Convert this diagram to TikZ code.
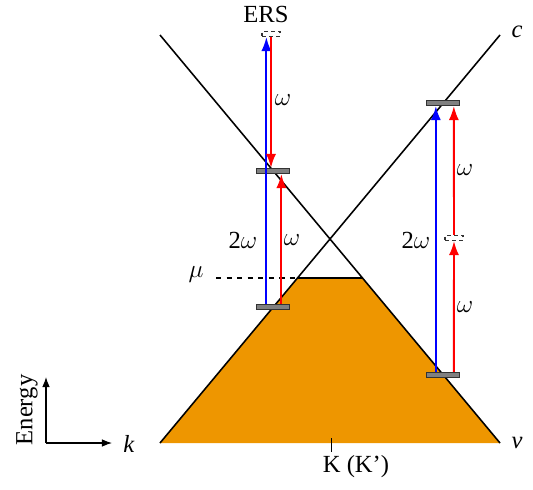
\documentclass[tikz,border=0pt]{standalone}
\usepackage{fontspec}
\setmainfont{Liberation Serif}
\definecolor{fermiorange}{RGB}{238,150,0}
\definecolor{pumpblue}{RGB}{0,0,255}
\definecolor{pumpred}{RGB}{255,0,0}
\usetikzlibrary{arrows.meta,positioning,calc}

\begin{document}
\begin{tikzpicture}[
  >=Latex,
  font=\fontsize{14}{16}\selectfont,
  band/.style={line width=0.9pt, black},
  level/.style={draw=black!80, fill=black!50, line width=0.6pt, minimum width=0.66cm, minimum height=0.1cm, inner sep=0pt},
  virt/.style={draw=black!80, dash pattern=on 2pt off 2pt, line width=0.6pt, minimum width=0.36cm, minimum height=0.1cm, inner sep=0pt},
  pumpb/.style={-{Latex[length=2.8mm,width=2mm]}, line width=1.1pt, pumpblue},
  pumpr/.style={-{Latex[length=2.8mm,width=2mm]}, line width=1.1pt, pumpred}
]
\useasboundingbox (0,0) rectangle (10.66,9.78);

% filled states below mu
\fill[fermiorange] (3.2,0.92) -- (10.0,0.92) -- (7.25,4.22) -- (5.95,4.22) -- cycle;
\draw[line width=0.8pt] (5.95,4.22) -- (7.25,4.22);
\draw[dashed, line width=0.6pt] (4.32,4.22) -- (5.95,4.22);
\node (mu) at (3.92,4.28) {$\mu$};

% Dirac cone
\draw[band] (3.2,9.08) -- (10.0,0.92);
\draw[band] (3.2,0.92) -- (10.0,9.08);
\node (c) at (10.34,9.14) {\textit{c}};
\node (v) at (10.34,0.92) {\textit{v}};
\draw[line width=0.5pt] (6.62,0.75) -- (6.62,1.02);
\node (K) at (7.12,0.44) {K (K’)};

% levels, left side
\node[level] (l1) at (5.467,3.64) {};
\node[level] (l2) at (5.467,6.36) {};
\node[virt] (ers) at (5.42,9.10) {};
\node (erslbl) at (5.32,9.50) {ERS};

\draw[pumpb] ([xshift=-0.14cm]l1.north) -- ([xshift=-0.14cm]l1.north |- ers.south);
\draw[pumpr] ([xshift=0.16cm]l1.north) -- ([xshift=0.16cm]l2.south);
\draw[pumpr] (ers.south) -- (ers.south |- l2.north);

\node (w1) at (5.66,7.78) {$\omega$};
\node (w2) at (4.86,4.98) {2$\omega$};
\node (w3) at (5.84,4.98) {$\omega$};

% levels, right side
\node[level] (r1) at (8.867,2.28) {};
\node[level] (r2) at (8.867,7.72) {};
\node[virt] (mid) at (9.08,5.02) {};

\draw[pumpb] ([xshift=-0.15cm]r1.north) -- ([xshift=-0.15cm]r2.south);
\draw[pumpr] ([xshift=0.21cm]r1.north) -- (mid.south);
\draw[pumpr] (mid.north) -- ([xshift=0.21cm]r2.south);

\node (w4) at (8.32,4.98) {2$\omega$};
\node (w5) at (9.30,6.38) {$\omega$};
\node (w6) at (9.30,3.64) {$\omega$};

% axes
\coordinate (o) at (0.92,0.92);
\coordinate (ey) at (0.92,2.24);
\coordinate (kx) at (2.24,0.92);
\draw[->, line width=0.6pt] (o) -- (ey);
\draw[->, line width=0.6pt] (o) -- (kx);
\node[rotate=90] (en) at (0.54,1.58) {Energy};
\node (k) at (2.58,0.90) {\textit{k}};
\end{tikzpicture}
\end{document}
